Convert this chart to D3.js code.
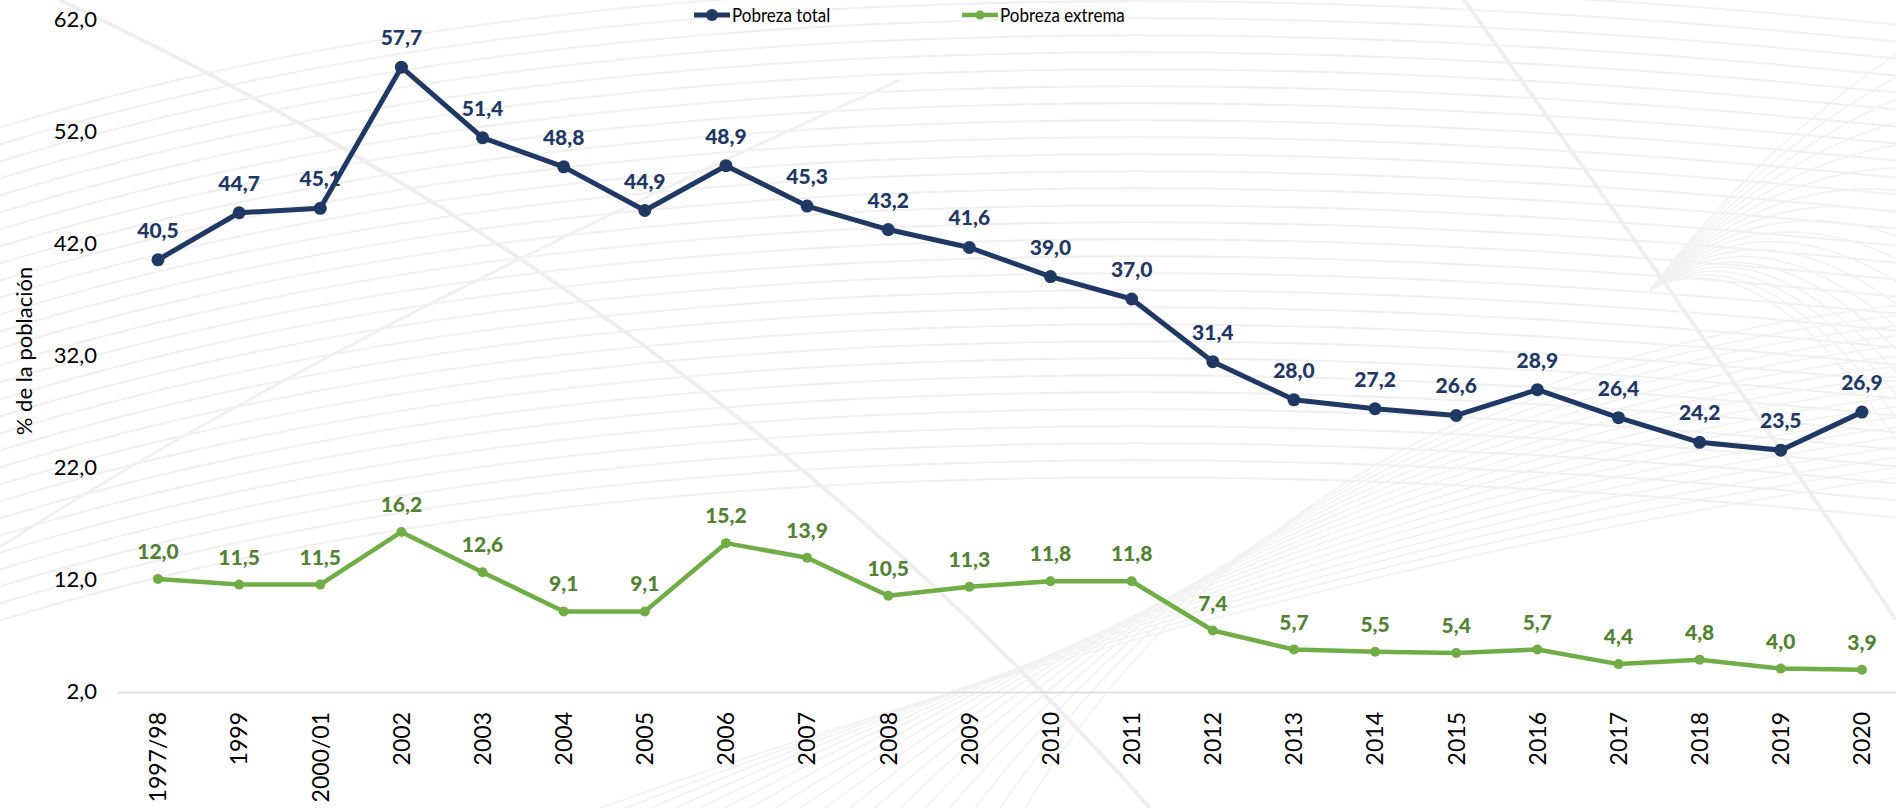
<!DOCTYPE html>
<html>
<head>
<meta charset="utf-8">
<script src="https://cdn.jsdelivr.net/npm/d3@7"></script>
<style>
  body { margin: 0; background: #ffffff; }
  svg { display: block; font-family: Lato, "Open Sans", sans-serif; }
</style>
</head>
<body>
<svg id="chart"></svg>
<script>
// data
var years = ["1997/98", "1999", "2000/01", "2002", "2003", "2004", "2005", "2006", "2007", "2008", "2009",
             "2010", "2011", "2012", "2013", "2014", "2015", "2016", "2017", "2018", "2019", "2020"];
var pobrezaTotal = [40.5, 44.7, 45.1, 57.7, 51.4, 48.8, 44.9, 48.9, 45.3, 43.2, 41.6,
                    39.0, 37.0, 31.4, 28.0, 27.2, 26.6, 28.9, 26.4, 24.2, 23.5, 26.9];
var pobrezaExtrema = [12.0, 11.5, 11.5, 16.2, 12.6, 9.1, 9.1, 15.2, 13.9, 10.5, 11.3,
                      11.8, 11.8, 7.4, 5.7, 5.5, 5.4, 5.7, 4.4, 4.8, 4.0, 3.9];
var yTicks = [2, 12, 22, 32, 42, 52, 62];
var seriesNames = ["Pobreza total", "Pobreza extrema"];

var screen = {width: 1896, height: 808};

var svg = d3.select("#chart")
    .attr("width", screen.width)
    .attr("height", screen.height);

// faint background swirl (template decoration)
var bg = svg.append("g").attr("id", "bg").attr("fill", "none");
for (var i = 0; i < 30; i++) {
    var y0 = 20 + i * 17;
    bg.append("path")
        .attr("d", "M-40," + (y0 + 120) + " Q700," + (y0 - 120) + " 1950," + (y0 + 10))
        .attr("stroke", "#f1f1f1")
        .attr("stroke-width", 2);
}
for (var j = 0; j < 18; j++) {
    bg.append("path")
        .attr("d", "M" + (600 + j * 25) + ",808 Q1300," + (560 - j * 12) + " 1950," + (470 - j * 10))
        .attr("stroke", "#f2f2f2")
        .attr("stroke-width", 1.5);
    bg.append("path")
        .attr("d", "M1650,290 Q1780," + (120 + j * 6) + " 1950," + (20 + j * 30))
        .attr("stroke", "#f2f2f2")
        .attr("stroke-width", 1.5);
}
bg.append("path")
    .attr("d", "M60,0 Q700,300 1150,808")
    .attr("stroke", "#efefef")
    .attr("stroke-width", 4);
bg.append("path")
    .attr("d", "M1450,-20 Q1750,400 1896,620")
    .attr("stroke", "#efefef")
    .attr("stroke-width", 4);
bg.append("path")
    .attr("d", "M-20,560 Q300,350 900,80")
    .attr("stroke", "#f1f1f1")
    .attr("stroke-width", 3);

// scales
var xScale = d3.scaleBand()
    .domain(years)
    .range([117.4, 1902.5]);

var yScale = d3.scaleLinear()
    .domain([2, 62])
    .range([691, 19]);

var fmt = function(v) { return d3.format(".1f")(v).replace(".", ","); };
var cx = function(d, i) { return xScale(years[i]) + xScale.bandwidth() / 2; };

// y axis (labels only)
var yAxis = d3.axisLeft(yScale)
    .tickValues(yTicks)
    .tickSize(0)
    .tickPadding(0)
    .tickFormat(fmt);

svg.append("g")
    .attr("id", "yAxis")
    .attr("transform", "translate(97,0)")
    .call(yAxis)
    .call(function(g) { g.select(".domain").remove(); })
    .selectAll("text")
    .attr("font-family", "Lato, sans-serif")
    .attr("font-size", 22)
    .attr("fill", "#000000");

svg.append("text")
    .attr("transform", "translate(32,351) rotate(-90)")
    .attr("text-anchor", "middle")
    .attr("font-size", 22)
    .attr("fill", "#000000")
    .text("% de la población");

// x axis
var xAxis = d3.axisBottom(xScale).tickSize(0).tickPadding(0);

var gx = svg.append("g")
    .attr("id", "xAxis")
    .attr("transform", "translate(0,692)")
    .call(xAxis);

gx.select(".domain")
    .attr("stroke", "#d9d9d9")
    .attr("stroke-width", 1.5);

gx.selectAll(".tick text")
    .attr("font-family", "Lato, sans-serif")
    .attr("font-size", 23)
    .attr("fill", "#000000")
    .attr("text-anchor", "end")
    .attr("transform", "translate(0,20) rotate(-90)")
    .attr("x", 0)
    .attr("y", 0)
    .attr("dy", "0.36em");

// lines
var series = [
    {name: seriesNames[0], values: pobrezaTotal, color: "#203864", label: "#1f3864", width: 5, r: 6.5, dy: -22},
    {name: seriesNames[1], values: pobrezaExtrema, color: "#70ad47", label: "#548235", width: 4.5, r: 5, dy: -20}
];

series.forEach(function(s, k) {
    var line = d3.line()
        .x(cx)
        .y(function(d) { return yScale(d); });

    var g = svg.append("g").attr("id", "series" + k);

    g.append("path")
        .datum(s.values)
        .attr("d", line)
        .attr("fill", "none")
        .attr("stroke", s.color)
        .attr("stroke-width", s.width)
        .attr("stroke-linejoin", "round");

    g.selectAll("circle")
        .data(s.values)
        .enter()
        .append("circle")
        .attr("cx", cx)
        .attr("cy", function(d) { return yScale(d); })
        .attr("r", s.r)
        .attr("fill", s.color);

    g.selectAll("text")
        .data(s.values)
        .enter()
        .append("text")
        .attr("x", cx)
        .attr("y", function(d) { return yScale(d) + s.dy; })
        .attr("text-anchor", "middle")
        .attr("font-size", 21)
        .attr("font-weight", 900)
        .attr("fill", s.label)
        .text(fmt);
});

// legend
var legendX = [694, 962];
var legend = svg.append("g").attr("id", "legend");
series.forEach(function(s, k) {
    var lg = legend.append("g").attr("transform", "translate(" + legendX[k] + ",15)");
    lg.append("line")
        .attr("x1", 0).attr("x2", 36)
        .attr("stroke", s.color)
        .attr("stroke-width", s.width);
    lg.append("circle")
        .attr("cx", 18)
        .attr("r", s.r - 0.5)
        .attr("fill", s.color);
    lg.append("text")
        .attr("transform", "translate(38,0) scale(0.85,1)")
        .attr("dy", "0.36em")
        .attr("font-size", 20)
        .attr("fill", "#000000")
        .text(s.name);
});
</script>
</body>
</html>
